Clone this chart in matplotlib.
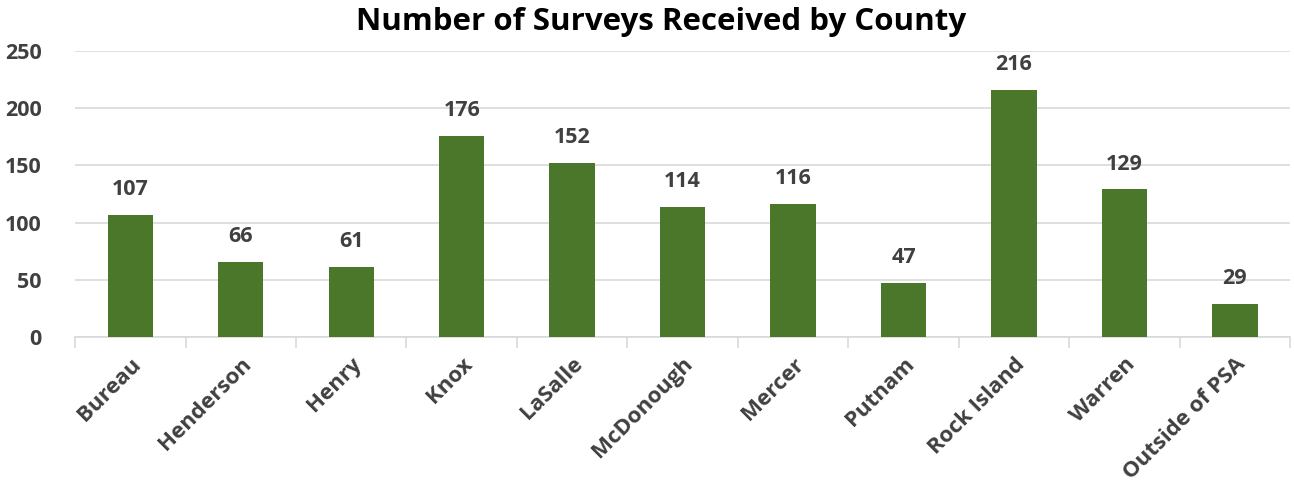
import matplotlib.pyplot as plt
import numpy as np

counties = ["Bureau", "Henderson", "Henry", "Knox", "LaSalle", "McDonough",
            "Mercer", "Putnam", "Rock Island", "Warren", "Outside of PSA"]
surveys = [107, 66, 61, 176, 152, 114, 116, 47, 216, 129, 29]
y_ticks = [0, 50, 100, 150, 200, 250]

plt.rcParams['font.family'] = ['Open Sans', 'DejaVu Sans']
plt.rcParams['font.weight'] = 'bold'

fig = plt.figure(figsize=(12.94, 4.87), dpi=100)
ax = fig.add_axes([0.058, 0.308, 0.939, 0.587])

x = np.arange(len(counties))
bars = ax.bar(x, surveys, width=0.41, color='#4a7729', zorder=3)

for xi, v in zip(x, surveys):
    ax.text(xi, v + 13, str(v), ha='center', va='bottom', fontsize=15.5,
            fontweight='bold', color='#404040')

ax.set_xlim(-0.5, len(counties) - 0.5)
ax.set_ylim(0, 250)
ax.set_yticks(y_ticks)
ax.set_yticklabels([str(t) for t in y_ticks], fontsize=15.5, fontweight='bold', color='#404040')
ax.grid(axis='y', color='#d9d9d9', linewidth=1.2, zorder=0)

ax.set_xticks(x)
ax.set_xticklabels(counties, rotation=45, ha='right', rotation_mode='anchor',
                   fontsize=16, fontweight='bold', color='#404040')
ax.tick_params(axis='x', which='major', length=0, pad=12)
ax.set_xticks(np.arange(-0.5, len(counties)), minor=True)
ax.tick_params(axis='x', which='minor', length=8, color='#d9d9d9', width=1.2)
ax.tick_params(axis='y', length=0, pad=24)

for s in ['top', 'right', 'left']:
    ax.spines[s].set_visible(False)
ax.spines['bottom'].set_color('#d9d9d9')
ax.spines['bottom'].set_linewidth(1.2)

fig.suptitle("Number of Surveys Received by County", fontsize=22.5, fontweight='bold',
             color='black', x=0.511, y=0.985)

fig.savefig('out.png', dpi=100)
